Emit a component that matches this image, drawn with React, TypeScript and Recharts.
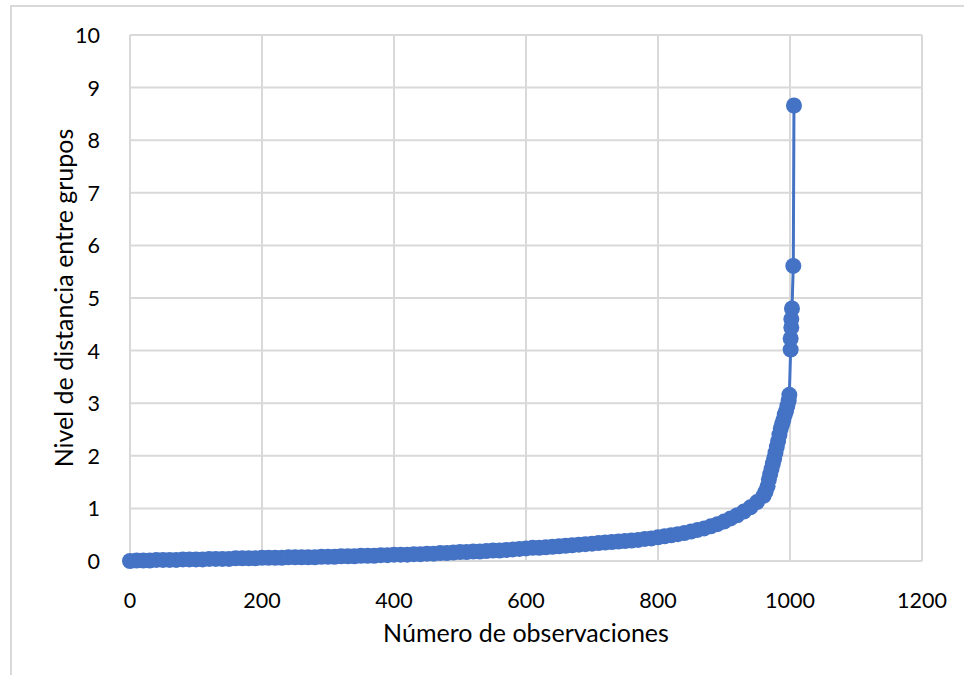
import React from "react";
import {
  ScatterChart,
  Scatter,
  XAxis,
  YAxis,
  CartesianGrid,
} from "recharts";

const observations = [
  0, 10, 20, 30, 40, 50, 60, 70, 80, 90, 100,
  110, 120, 130, 140, 150, 160, 170, 180, 190, 200,
  210, 220, 230, 240, 250, 260, 270, 280, 290, 300,
  310, 320, 330, 340, 350, 360, 370, 380, 390, 400,
  410, 420, 430, 440, 450, 460, 470, 480, 490, 500,
  510, 520, 530, 540, 550, 560, 570, 580, 590, 600,
  610, 620, 630, 640, 650, 660, 670, 680, 690, 700,
  710, 720, 730, 740, 750, 760, 770, 780, 790, 800,
  810, 820, 830, 840, 850, 860, 870, 880, 890, 900,
  910, 920, 930, 940, 950, 960,
  963, 966, 968, 970, 972, 974, 976, 978, 980, 982, 984, 986, 988, 990,
  992, 994, 996, 998, 999, 1001, 1001, 1002, 1002, 1003, 1005, 1006,
];

const distances = [
  0.0, 0.01, 0.01, 0.01, 0.02, 0.02, 0.02, 0.02, 0.03, 0.03, 0.03,
  0.03, 0.04, 0.04, 0.04, 0.04, 0.05, 0.05, 0.05, 0.05, 0.06,
  0.06, 0.06, 0.06, 0.07, 0.07, 0.07, 0.07, 0.07, 0.08, 0.08,
  0.08, 0.09, 0.09, 0.09, 0.1, 0.1, 0.1, 0.11, 0.11, 0.12,
  0.12, 0.12, 0.13, 0.13, 0.14, 0.14, 0.15, 0.15, 0.16, 0.17,
  0.17, 0.18, 0.18, 0.19, 0.2, 0.2, 0.21, 0.22, 0.23, 0.24,
  0.25, 0.25, 0.26, 0.27, 0.28, 0.29, 0.3, 0.31, 0.32, 0.33,
  0.34, 0.35, 0.36, 0.37, 0.38, 0.39, 0.4, 0.42, 0.43, 0.45,
  0.47, 0.49, 0.51, 0.53, 0.56, 0.59, 0.62, 0.66, 0.7, 0.75,
  0.81, 0.87, 0.94, 1.02, 1.12, 1.24,
  1.32, 1.42, 1.55, 1.65, 1.75, 1.85, 1.95, 2.06, 2.17, 2.28, 2.4, 2.52, 2.6, 2.68,
  2.78, 2.85, 2.95, 3.05, 3.16, 4.02, 4.23, 4.44, 4.6, 4.8, 5.61, 8.66,
];

const xTicks = [0, 200, 400, 600, 800, 1000, 1200];
const yTicks = [0, 1, 2, 3, 4, 5, 6, 7, 8, 9, 10];

const xTitle = "Número de observaciones";
const yTitle = "Nivel de distancia entre grupos";

const data = observations.map((obs, i) => ({ obs, dist: distances[i] }));

const FONT = "Lato, 'Noto Sans', sans-serif";
const BLUE = "#4472C4";
const GRID = "#d9d9d9";

const XTick = ({ x, y, payload }: any) => (
  <text
    x={x}
    y={y + 31}
    textAnchor="middle"
    dominantBaseline="central"
    fill="#000"
    fontSize={21.5}
    fontFamily={FONT}
  >
    {payload.value}
  </text>
);

const YTick = ({ x, y, payload }: any) => (
  <text
    x={x - 22}
    y={y}
    textAnchor="end"
    dominantBaseline="central"
    fill="#000"
    fontSize={21.5}
    fontFamily={FONT}
  >
    {payload.value}
  </text>
);

const Marker = ({ cx, cy }: any) => <circle cx={cx} cy={cy} r={8} fill={BLUE} />;

export default function App() {
  return (
    <div
      style={{
        position: "absolute",
        left: 0,
        top: 0,
        width: 964,
        height: 675,
        overflow: "hidden",
        background: "#fff",
      }}
    >
      <div
        style={{
          position: "absolute",
          left: 10,
          top: 5,
          width: 1000,
          height: 720,
          border: `2px solid ${GRID}`,
          boxSizing: "border-box",
        }}
      />
      <div style={{ position: "absolute", left: 0, top: 0 }}>
        <ScatterChart
          width={964}
          height={675}
          margin={{ top: 35, right: 42, bottom: 0, left: 0 }}
        >
          <CartesianGrid stroke={GRID} strokeWidth={2} />
          <XAxis
            type="number"
            dataKey="obs"
            domain={[0, 1200]}
            ticks={xTicks}
            height={114}
            axisLine={false}
            tickLine={false}
            tick={<XTick />}
            interval={0}
          />
          <YAxis
            type="number"
            dataKey="dist"
            domain={[0, 10]}
            ticks={yTicks}
            width={130}
            axisLine={false}
            tickLine={false}
            tick={<YTick />}
            interval={0}
          />
          <Scatter
            data={data}
            fill={BLUE}
            line={{ stroke: BLUE, strokeWidth: 3 }}
            lineType="joint"
            shape={<Marker />}
            isAnimationActive={false}
          />
          <text
            x={526}
            y={632}
            textAnchor="middle"
            dominantBaseline="central"
            fontSize={25}
            fontFamily={FONT}
            fill="#000"
          >
            {xTitle}
          </text>
          <text
            x={63}
            y={298}
            textAnchor="middle"
            dominantBaseline="central"
            fontSize={25}
            fontFamily={FONT}
            fill="#000"
            transform="rotate(-90 63 298)"
          >
            {yTitle}
          </text>
        </ScatterChart>
      </div>
    </div>
  );
}
